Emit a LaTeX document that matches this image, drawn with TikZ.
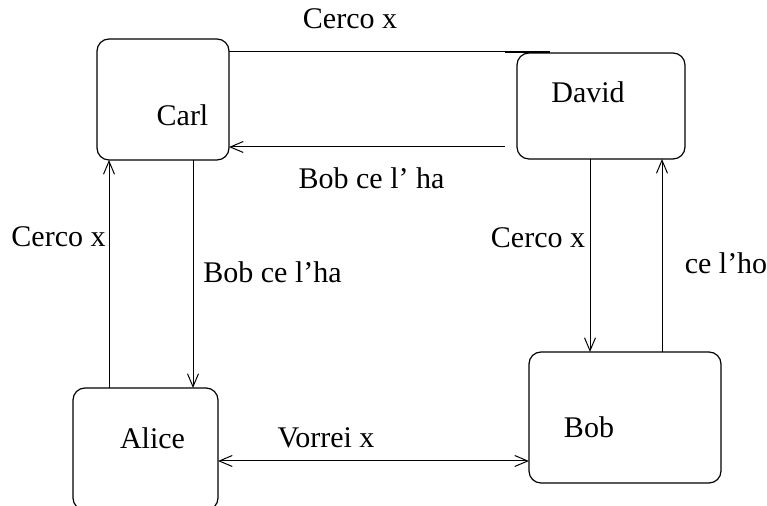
\documentclass[tikz,border=0pt]{standalone}
\usepackage{fontspec}
\setmainfont{Liberation Serif}
\usetikzlibrary{arrows.meta}
\begin{document}
\begin{tikzpicture}[x=0.5pt,y=-0.5pt,
  every node/.style={font=\fontsize{15}{18}\selectfont},
  agent/.style={draw, line width=0.6pt, rounded corners=6pt, inner sep=0pt, outer sep=0pt},
  barb/.tip={Straight Barb[length=6.5pt,width=5.5pt,line width=0.5pt]},
  msg/.style={line width=0.5pt, -barb},
  msgboth/.style={line width=0.5pt, barb-barb},
  lbl/.style={inner sep=0pt}]
\useasboundingbox (0,0) rectangle (767,506);

% agents
\node[agent, minimum width=66pt, minimum height=60.5pt] (carl) at (163,99.5) {};
\node[agent, minimum width=84pt, minimum height=53pt] (david) at (601,106) {};
\node[agent, minimum width=72.5pt, minimum height=61pt] (alice) at (145.5,449) {};
\node[agent, minimum width=96pt, minimum height=65.5pt] (bob) at (625,417.5) {};

\node[lbl] (carlname) at (182.5,115) {Carl};
\node[lbl] (davidname) at (588,92) {David};
\node[lbl] (alicename) at (152.5,438) {Alice};
\node[lbl] (bobname) at (589,427) {Bob};

% Carl -- David
\coordinate (topend) at (550,52);
\draw[line width=0.5pt] (carl.east |- topend) -- (topend);
\draw[line width=0.9pt] (505,52) -- (topend);
\node[lbl] (l1) at (350,19) {Cerco x};

\coordinate (bobfrom) at (505,147);
\draw[msg] (bobfrom) -- (carl.east |- bobfrom);
\node[lbl] (l2) at (371.5,178) {Bob ce l' ha};

% Carl -- Alice
\coordinate (cx1) at (109,0);
\coordinate (cx2) at (193,0);
\draw[msg] (alice.north -| cx1) -- (carl.south -| cx1);
\draw[msg] (carl.south -| cx2) -- (alice.north -| cx2);
\node[lbl] (l3) at (58.5,237) {Cerco x};
\node[lbl] (l4) at (272.5,272) {Bob ce l'ha};

% David -- Bob
\coordinate (dx1) at (590,0);
\coordinate (dx2) at (662,0);
\draw[msg] (david.south -| dx1) -- (bob.north -| dx1);
\draw[msg] (bob.north -| dx2) -- (david.south -| dx2);
\node[lbl] (l5) at (538,238) {Cerco x};
\node[lbl] (l6) at (726,263) {ce l'ho};

% Alice -- Bob
\coordinate (ay) at (0,461);
\draw[msgboth] (alice.east |- ay) -- (bob.west |- ay);
\node[lbl] (l7) at (326,438) {Vorrei x};
\end{tikzpicture}
\end{document}
